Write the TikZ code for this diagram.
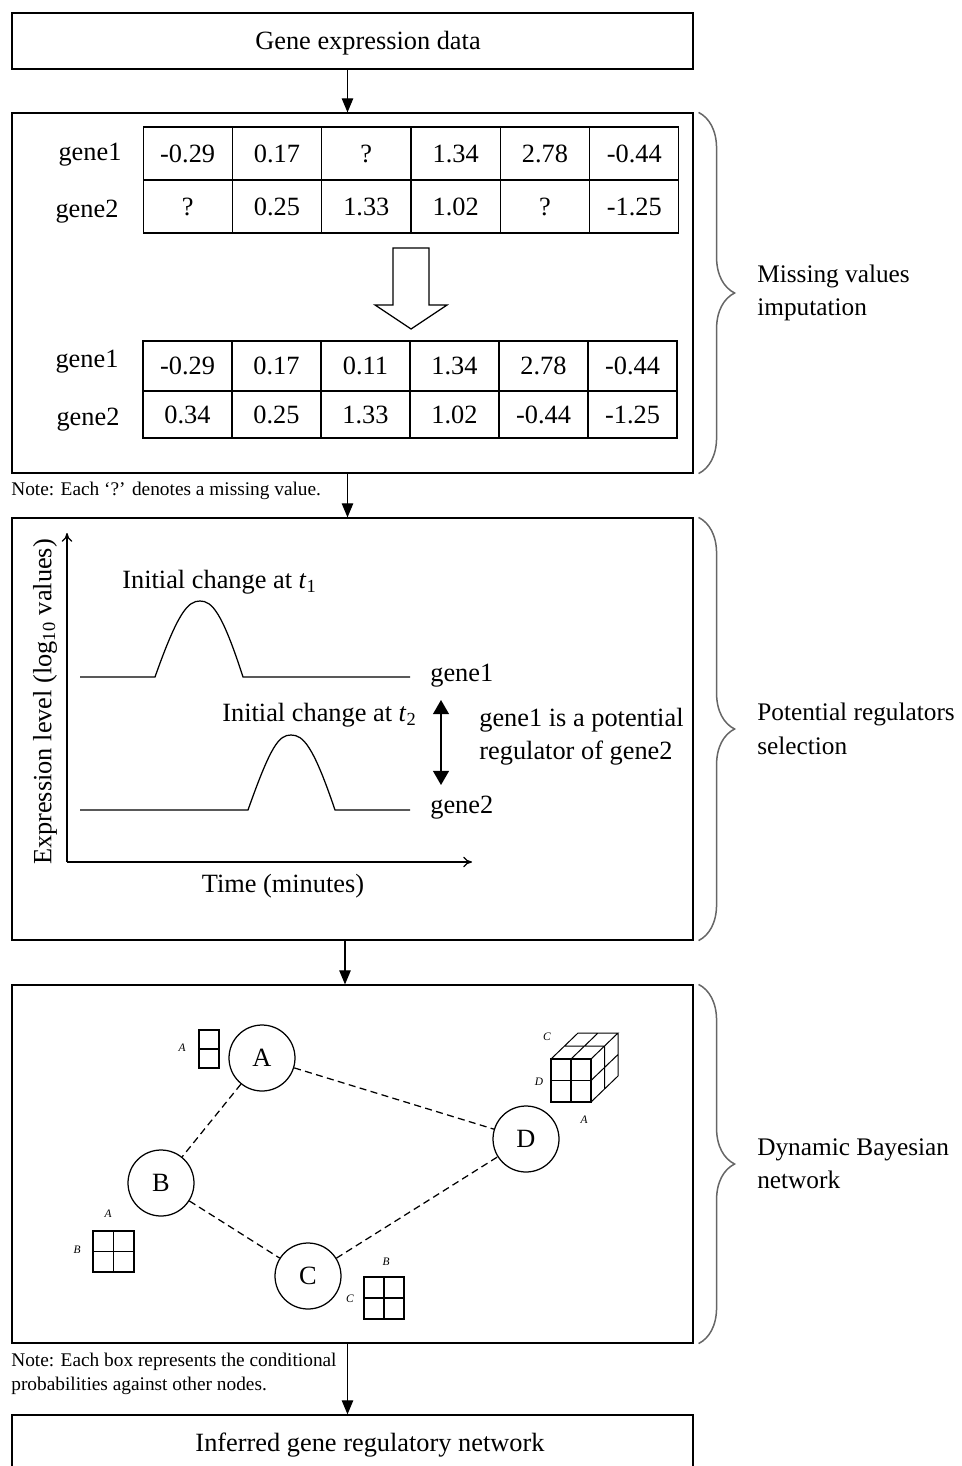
\documentclass[tikz,border=0pt]{standalone}
\usepackage{fontspec}
\setmainfont{Liberation Serif}
\usepackage{tikz}
\usetikzlibrary{arrows.meta,calc,decorations.pathreplacing}

\tikzstyle{tsText} = [
    text=black,
    font=\fontsize{15}{19}\selectfont,
    inner sep=0pt
]
\tikzstyle{tsNote} = [
    text=black,
    font=\fontsize{11}{13.6}\selectfont,
    align=left,
    anchor=west,
    inner sep=0pt
]
\tikzstyle{tsBox} = [
    rectangle,
    tsText,
    draw=black,
    line width=0.25mm,
    minimum width=13.62cm]
\tikzstyle{tsCell} = [
    rectangle,
    tsText,
    draw=black,
    line width=0.25mm,
    minimum width=1.78cm]
\tikzstyle{tsFlow} = [
    -{Triangle[width=6.5pt,length=8pt]},
    line width=0.25mm]
\tikzstyle{tsBrace} = [
    decorate,
    decoration={brace, amplitude=0.72cm},
    draw=black!60,
    line width=0.3mm]
\tikzstyle{tsBraceLabel} = [
    tsText,
    font=\fontsize{14.4}{19}\selectfont,
    anchor=west,
    align=left]
\tikzstyle{tsGene} = [
    circle,
    tsText,
    draw=black,
    line width=0.25mm,
    minimum size=1.32cm]
\tikzstyle{tsEdge} = [
    line width=0.25mm,
    dash pattern=on 4pt off 2.5pt]
\tikzstyle{tsTiny} = [
    text=black,
    font=\fontsize{6.5}{7}\selectfont\itshape,
    inner sep=0pt]

\begin{document}
\begin{tikzpicture}[x=0.02cm, y=-0.02cm]
        \useasboundingbox (0,0) rectangle (961,1466);

        % the five stages
        \node[tsBox, minimum height=1.12cm] (data) at (352.5,41) { };
        \node[tsText] (datatxt) at (368,43) {Gene expression data};
        \node[tsBox, minimum height=7.2cm] (impute) at (352.5,293) { };
        \node[tsBox, minimum height=8.44cm] (select) at (352.5,729) { };
        \node[tsBox, minimum height=7.16cm] (dbn) at (352.5,1164) { };
        \node[tsBox, minimum height=1.2cm] (grn) at (352.5,1445) { };
        \node[tsText] (grntxt) at (370,1445) {Inferred gene regulatory network};

        \draw[tsFlow] ([xshift=-1mm]data.south) -- ([xshift=-1mm]impute.north);
        \draw[tsFlow] ([xshift=-1mm]impute.south) -- ([xshift=-1mm]select.north);
        \draw[tsFlow] ([xshift=-1.5mm]select.south) -- ([xshift=-1.5mm]dbn.north);
        \draw[tsFlow] ([xshift=-1mm]dbn.south) -- ([xshift=-1mm]grn.north);

        % missing values imputation
        \node[tsText] (rowa1) at (90,155) {gene1};
        \node[tsText] (rowa2) at (87,212) {gene2};
        \foreach \v [count=\i] in {-0.29,0.17,?,1.34,2.78,-0.44}
            \node[tsCell, minimum height=1.06cm] (a\i) at ({98.33+89.33*\i},153.5) {\v};
        \foreach \v [count=\i] in {?,0.25,1.33,1.02,?,-1.25}
            \node[tsCell, minimum height=1.06cm] (b\i) at ({98.33+89.33*\i},206.5) {\v};

        \draw[line width=0.25mm, fill=white] (393,248) -- (429,248) -- (429,305) -- (447,305)
            -- (411,329) -- (375,305) -- (393,305) -- cycle;

        \node[tsText] (rowc1) at (87,362) {gene1};
        \node[tsText] (rowc2) at (88,420) {gene2};
        \foreach \v [count=\i] in {-0.29,0.17,0.11,1.34,2.78,-0.44}
            \node[tsCell, minimum height=1.0cm] (c\i) at ({98.5+89*\i},366) {\v};
        \foreach \v [count=\i] in {0.34,0.25,1.33,1.02,-0.44,-1.25}
            \node[tsCell, minimum height=0.94cm] (d\i) at ({98.5+89*\i},414.5) {\v};

        \node[tsNote] (note1) at (11,491) {Note: Each `?' denotes a missing value.};

        % potential regulators selection
        \coordinate (origin) at (67,862);
        \draw[-{To[length=5pt,width=6pt]}, line width=0.25mm] (origin) -- (67,533);
        \draw[-{To[length=5pt,width=6pt]}, line width=0.25mm] (origin) -- (472,862);
        \node[tsText, rotate=90] (ylbl) at (45,702) {Expression level (log\textsubscript{10} values)};
        \node[tsText] (xlbl) at (283,886) {Time (minutes)};

        \draw[line width=0.25mm] (80,677) -- (155,677) .. controls (178,612) and (188,601) .. (200,601)
            .. controls (212,601) and (222,612) .. (243,677) -- (410,677);
        \draw[line width=0.25mm] (80,810) -- (248,810) .. controls (271,745) and (279,735) .. (291,735)
            .. controls (303,735) and (313,745) .. (335,810) -- (410,810);

        \node[tsText, anchor=west] (t1lbl) at (122,582) {Initial change at \textit{t}\textsubscript{1}};
        \node[tsText, anchor=west] (t2lbl) at (222,715) {Initial change at \textit{t}\textsubscript{2}};
        \node[tsText, anchor=west] (g1lbl) at (430,676) {gene1};
        \node[tsText, anchor=west] (g2lbl) at (430,808) {gene2};
        \node[tsText, anchor=west, align=left] (potential) at (479,737) {gene1 is a potential\\regulator of gene2};
        \draw[{Triangle[width=9pt,length=8pt]}-{Triangle[width=9pt,length=8pt]}, line width=0.3mm]
            (441,700) -- (441,785);

        % dynamic bayesian network
        \node[tsGene] (A) at (262,1058) {A};
        \node[tsGene] (B) at (161,1183) {B};
        \node[tsGene] (C) at (308,1276) {C};
        \node[tsGene] (D) at (526,1139) {D};
        \draw[tsEdge] (A) -- (B);
        \draw[tsEdge] (A) -- (D);
        \draw[tsEdge] (B) -- (C);
        \draw[tsEdge] (C) -- (D);

        \draw[line width=0.25mm] (199,1030) rectangle (219,1068) (199,1049) -- (219,1049);
        \node[tsTiny] (pA) at (182,1048) {A};

        \draw[line width=0.25mm] (93,1231) rectangle (134,1272)
            (113.5,1231) -- (113.5,1272) (93,1251.5) -- (134,1251.5);
        \node[tsTiny] (pBa) at (108,1214) {A};
        \node[tsTiny] (pBb) at (77,1250) {B};

        \draw[line width=0.25mm] (364,1277) rectangle (404,1319)
            (384,1277) -- (384,1319) (364,1298) -- (404,1298);
        \node[tsTiny] (pCb) at (386,1262) {B};
        \node[tsTiny] (pCc) at (350,1299) {C};

        \draw[line width=0.25mm] (551,1059) rectangle (591,1102)
            (571,1059) -- (571,1102) (551,1080.5) -- (591,1080.5);
        \draw[line width=0.2mm] (551,1059) -- (578,1033) -- (618,1033) -- (591,1059)
            (618,1033) -- (618,1076) -- (591,1102)
            (571,1059) -- (598,1033) (564.5,1046) -- (604.5,1046)
            (591,1080.5) -- (618,1054.5) (604.5,1046) -- (604.5,1089);
        \node[tsTiny] (pDc) at (547,1037) {C};
        \node[tsTiny] (pDd) at (539,1082) {D};
        \node[tsTiny] (pDa) at (584,1120) {A};

        \node[tsNote] (note2) at (11,1374) {Note: Each box represents the conditional\\probabilities against other nodes.};

        % braces
        \draw[tsBrace] ([xshift=1mm]impute.north east) -- ([xshift=1mm]impute.south east)
            node[tsBraceLabel, midway, xshift=1.16cm] (lblimpute) {Missing values\\imputation};
        \draw[tsBrace] ([xshift=1mm]select.north east) -- ([xshift=1mm]select.south east)
            node[tsBraceLabel, midway, xshift=1.16cm] (lblselect) {Potential regulators\\selection};
        \draw[tsBrace] ([xshift=1mm]dbn.north east) -- ([xshift=1mm]dbn.south east)
            node[tsBraceLabel, midway, xshift=1.16cm] (lbldbn) {Dynamic Bayesian\\network};

\end{tikzpicture}
\end{document}
